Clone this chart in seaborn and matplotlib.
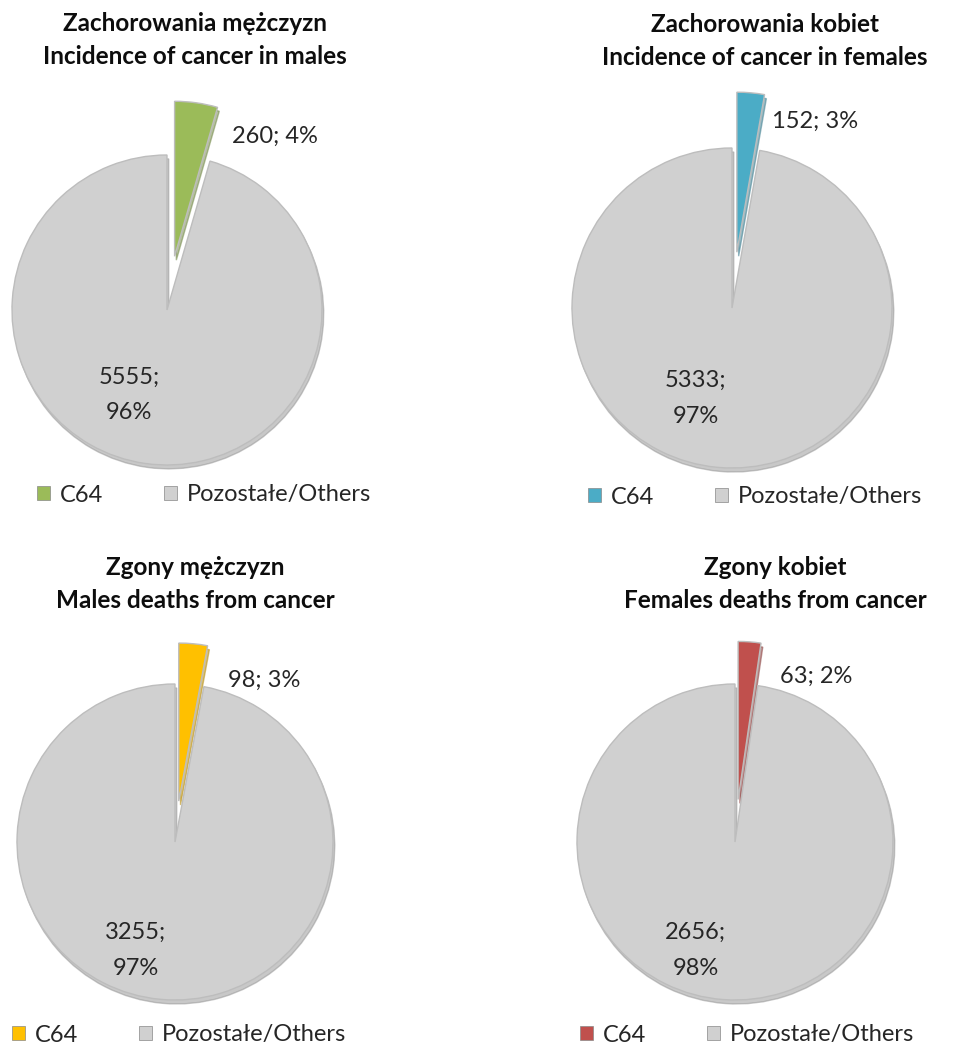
import matplotlib
matplotlib.use("Agg")
import numpy as np
import matplotlib.pyplot as plt
import seaborn as sns
from matplotlib.patches import Patch

sns.set_theme(style="white")
plt.rcParams['font.family'] = ['Lato', 'DejaVu Sans']

# dane
titles = [
    "Zachorowania mężczyzn\nIncidence of cancer in males",
    "Zachorowania kobiet\nIncidence of cancer in females",
    "Zgony mężczyzn\nMales deaths from cancer",
    "Zgony kobiet\nFemales deaths from cancer",
]
c64_values = [260, 152, 98, 63]
other_values = [5555, 5333, 3255, 2656]
c64_pct = [4, 3, 3, 2]
other_pct = [96, 97, 97, 98]
legend_labels = ["C64", "Pozostałe/Others"]

c64_colors = ["#9BBB59", "#4BACC6", "#FFC000", "#C0504D"]
grey = "#D0D0D0"

W, H = 963, 1048
fig = plt.figure(figsize=(W / 100, H / 100), dpi=100)

# układ w pikselach: środek koła, promień, wysunięcie, tytuł, legenda,
# pozycje etykiet (promień, kąt) dla C64 i pozostałych
layout = [
    dict(c=(167, 310), r=155, explode=0.35, title=(195, 40), leg=(37, 495),
         lab1=(1.32, 58), lab2=(0.60, 246)),
    dict(c=(732, 308), r=160, explode=0.35, title=(765, 41), leg=(588, 497),
         lab1=(1.28, 66), lab2=(0.61, 248)),
    dict(c=(175, 842), r=158, explode=0.26, title=(195, 584), leg=(12, 1035),
         lab1=(1.17, 61), lab2=(0.73, 250)),
    dict(c=(735, 842), r=158, explode=0.27, title=(775, 584), leg=(580, 1035),
         lab1=(1.17, 64), lab2=(0.73, 250)),
]
SPAN = 1.6


def add_pie_axes(cx, cy, r):
    half = SPAN * r
    return fig.add_axes([(cx - half) / W, 1 - (cy + half) / H, 2 * half / W, 2 * half / H])


def polar(rr, deg):
    a = np.deg2rad(deg)
    return rr * np.cos(a), rr * np.sin(a)


for i in range(4):
    lay = layout[i]
    ax = add_pie_axes(*lay["c"], lay["r"])
    vals = [c64_values[i], other_values[i]]
    wedges, _ = ax.pie(vals, colors=[c64_colors[i], grey], startangle=90, counterclock=False,
                       explode=[lay["explode"], 0],
                       wedgeprops=dict(edgecolor="#BDBDBD", linewidth=1.0),
                       shadow=dict(ox=0.008, oy=-0.018, shade=0.3))
    ax.set_xlim(-SPAN, SPAN)
    ax.set_ylim(-SPAN, SPAN)
    ax.set_aspect("equal")
    ax.axis("off")

    # etykiety danych
    x, y = polar(*lay["lab1"])
    ax.text(x, y, f"{c64_values[i]}; {c64_pct[i]}%",
            ha="center", va="center", fontsize=17, color="#262626")
    x, y = polar(*lay["lab2"])
    ax.text(x, y, f"{other_values[i]};\n{other_pct[i]}%",
            ha="center", va="center", fontsize=17, color="#262626", linespacing=1.85)

    tx, ty = lay["title"]
    fig.text(tx / W, 1 - ty / H, titles[i], ha="center", va="center", fontsize=17.5,
             fontweight="bold", linespacing=1.5, color="#0d0d0d")

    lx, ly = lay["leg"]
    handles = [Patch(facecolor=c64_colors[i], edgecolor="#888888", linewidth=0.5),
               Patch(facecolor=grey, edgecolor="#888888", linewidth=0.5)]
    fig.legend(handles, legend_labels, loc="center left", bbox_to_anchor=(lx / W, 1 - ly / H),
               ncol=2, frameon=False, fontsize=17, handlelength=0.55, handleheight=0.55,
               handletextpad=0.4, columnspacing=2.6, borderaxespad=0, borderpad=0)

fig.savefig("out.png", dpi=100)
